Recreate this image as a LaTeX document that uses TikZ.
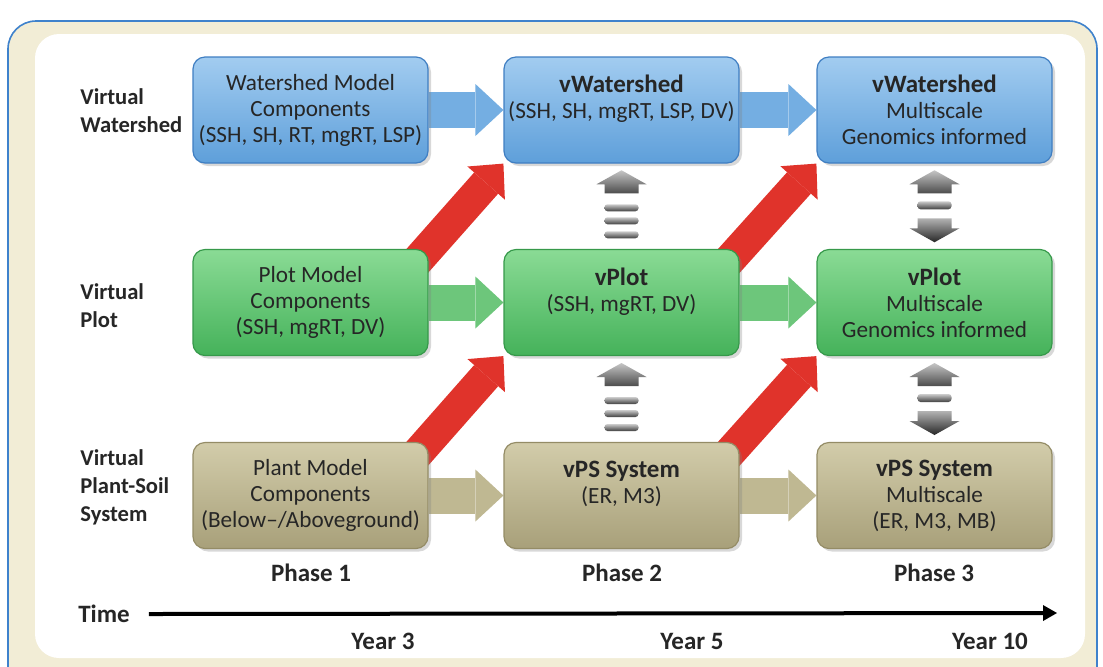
\documentclass[tikz,border=0pt]{standalone}
\usepackage{fontspec}
\setmainfont{Carlito}
\usetikzlibrary{arrows.meta,calc,shadows,backgrounds}

\definecolor{framebg}{HTML}{F2EDD6}
\definecolor{framebd}{HTML}{3F82CC}
\definecolor{wstop}{HTML}{A2CCF0}
\definecolor{wsbot}{HTML}{5E9FDA}
\definecolor{wsbd}{HTML}{3F7EC2}
\definecolor{wsarr}{HTML}{74AEE2}
\definecolor{pltop}{HTML}{8ADB95}
\definecolor{plbot}{HTML}{45B25A}
\definecolor{plbd}{HTML}{36994A}
\definecolor{plarr}{HTML}{6DC67B}
\definecolor{pstop}{HTML}{D2CCAA}
\definecolor{psbot}{HTML}{A8A07A}
\definecolor{psbd}{HTML}{948C66}
\definecolor{psarr}{HTML}{BFB892}
\definecolor{jumpc}{HTML}{E0332B}

\newcommand\stagetitle[1]{{\bfseries\fontsize{12.5}{13}\selectfont #1}}

\tikzset{
  stagebox/.style={rounded corners=6pt, minimum width=117.5pt, minimum height=53pt,
    inner sep=0pt, align=center, text=black!85, line width=0.6pt,
    font=\fontsize{11.6}{13}\selectfont,
    drop shadow={shadow xshift=1.5pt, shadow yshift=-1.5pt, opacity=0.3}},
  wsbox/.style={stagebox, draw=wsbd, top color=wstop, bottom color=wsbot},
  plbox/.style={stagebox, draw=plbd, top color=pltop, bottom color=plbot},
  psbox/.style={stagebox, draw=psbd, top color=pstop, bottom color=psbot},
  flow/.style={line width=18pt, -{Triangle[width=26pt, length=14pt, line width=0pt]}},
  jump/.style={draw=jumpc, line width=16pt, -{Triangle[width=25pt, length=13pt, line width=0pt]}},
  rowlab/.style={anchor=west, align=left, inner sep=0pt, text=black!85, font=\bfseries\fontsize{11.3}{14}\selectfont},
  lab/.style={text=black!85, font=\bfseries\fontsize{12.5}{14}\selectfont},
  timeline/.style={line width=2pt, -{Triangle[width=8pt, length=7pt, line width=0pt]}},
  % gray exchange glyphs
  uplink/.pic={
    \shade[top color=gray!45, bottom color=black!70]
      (0,-36) -- (25,-22) -- (17,-22) -- (17,-13) -- (-17,-13) -- (-17,-22) -- (-25,-22) -- cycle;
    \foreach \y in {-2,11,25}
      \shade[top color=gray!40, bottom color=black!75, rounded corners=1.5pt] (-17,\y) rectangle (17,\y+7);
  },
  duallink/.pic={
    \shade[top color=gray!45, bottom color=black!70]
      (0,-36) -- (25,-22) -- (17,-22) -- (17,-13) -- (-17,-13) -- (-17,-22) -- (-25,-22) -- cycle;
    \shade[top color=gray!40, bottom color=black!75, rounded corners=1.5pt] (-17,-5) rectangle (17,3);
    \shade[top color=gray!60, bottom color=black!85]
      (0,36) -- (25,22) -- (17,22) -- (17,12) -- (-17,12) -- (-17,22) -- (-25,22) -- cycle;
  },
}

\begin{document}
\begin{tikzpicture}[x=0.5pt, y=-0.5pt]
\useasboundingbox (0,0) rectangle (1103,666);

% frame
\begin{scope}[on background layer]
  \fill[white] (0,0) rectangle (1103,666);
  \draw[framebd, fill=framebg, line width=0.8pt, rounded corners=14pt] (8,21) rectangle (1097,720);
  \fill[white, rounded corners=12pt] (35,34) rectangle (1085,658);
\end{scope}

% row labels
\node[rowlab] (lws) at (80,111) {Virtual\\Watershed};
\node[rowlab] (lpl) at (80,306) {Virtual\\Plot};
\node[rowlab] (lps) at (80,487) {Virtual\\Plant-Soil\\System};

% watershed row
\node[wsbox] (w1) at (310.5,110) {Watershed Model\\Components\\(SSH, SH, RT, mgRT, LSP)};
\node[wsbox] (w2) at (621.5,110) {\stagetitle{vWatershed}\\(SSH, SH, mgRT, LSP, DV)\\\mbox{}};
\node[wsbox] (w3) at (934.5,110) {\stagetitle{vWatershed}\\Multiscale\\Genomics informed};

% plot row
\node[plbox] (p1) at (310.5,302.5) {Plot Model\\Components\\(SSH, mgRT, DV)};
\node[plbox] (p2) at (621.5,302.5) {\stagetitle{vPlot}\\(SSH, mgRT, DV)\\\mbox{}};
\node[plbox] (p3) at (934.5,302.5) {\stagetitle{vPlot}\\Multiscale\\Genomics informed};

% plant-soil row
\node[psbox] (s1) at (310.5,495.5) {Plant Model\\Components\\(Below--/Aboveground)};
\node[psbox] (s2) at (621.5,495.5) {\stagetitle{vPS System}\\(ER, M3)\\\mbox{}};
\node[psbox] (s3) at (934.5,495.5) {\stagetitle{vPS System}\\Multiscale\\(ER, M3, MB)};

% phases and time
\node[lab] (ph1) at (311,573) {Phase 1};
\node[lab] (ph2) at (622,573) {Phase 2};
\node[lab] (ph3) at (934,573) {Phase 3};
\node[lab] (time) at (104,614) {Time};
\coordinate (tend) at (1057,613);
\draw[timeline] ([xshift=6pt]time.east) -- (tend);
\node[lab] (y3) at (383,641) {Year 3};
\node[lab] (y5) at (692,641) {Year 5};
\node[lab] (y10) at (990,641) {Year 10};

% vertical exchange
\path ($(w2.south)!0.5!(p2.north)$) pic {uplink};
\path ($(p2.south)!0.5!(s2.north)$) pic {uplink};
\path ($(w3.south)!0.5!(p3.north)$) pic {duallink};
\path ($(p3.south)!0.5!(s3.north)$) pic {duallink};

% connectors behind the boxes
\begin{scope}[on background layer]
  \draw[flow, wsarr] (w1.east) -- (w2.west);
  \draw[flow, wsarr] (w2.east) -- (w3.west);
  \draw[flow, plarr] (p1.east) -- (p2.west);
  \draw[flow, plarr] (p2.east) -- (p3.west);
  \draw[flow, psarr] (s1.east) -- (s2.west);
  \draw[flow, psarr] (s2.east) -- (s3.west);
  \draw[jump] ($(p1.north east)+(-45,50)$) -- (w2.south west);
  \draw[jump] ($(p2.north east)+(-45,50)$) -- (w3.south west);
  \draw[jump] ($(s1.north east)+(-45,50)$) -- (p2.south west);
  \draw[jump] ($(s2.north east)+(-45,50)$) -- (p3.south west);
\end{scope}
\end{tikzpicture}
\end{document}
